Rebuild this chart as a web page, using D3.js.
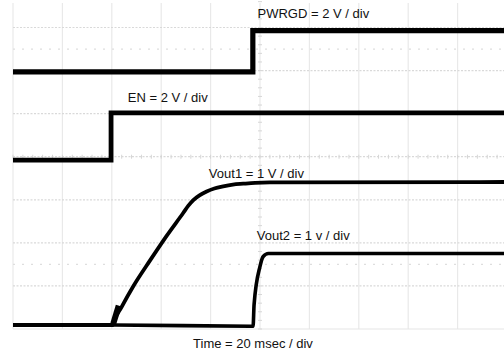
<!DOCTYPE html>
<html>
<head>
<meta charset="utf-8">
<script src="https://cdn.jsdelivr.net/npm/d3@7/dist/d3.min.js"></script>
<style>
  html, body { margin: 0; padding: 0; background: #fff; }
  svg { display: block; }
</style>
</head>
<body>
<svg id="chart" width="504" height="356"></svg>
<script>
// ---- Data (time in ms, voltage in V) ----
const xDivs = [0, 1, 2, 3, 4, 5, 6, 7, 8, 9, 10];     // 20 ms / div
const yDivs = [0, 1, 2, 3, 4, 5, 6, 7];                // vertical divisions
const msPerDiv = 20;

const channels    = ["PWRGD", "EN", "Vout1", "Vout2"];
const voltsPerDiv = [2, 2, 1, 1];
const offsetDiv   = [5.97, 3.92, 0.093, 0.093];

const pwrgdT = [0, 97.1, 97.1, 200];
const pwrgdV = [0, 0, 1.92, 1.92];

const enT = [0, 39.7, 39.7, 200];
const enV = [0, 0, 2.2, 2.2];

const vout1T = [0, 40.4, 40.6, 44.0, 48.7, 55.5, 62.2, 68.9, 71.0, 73.0, 75.5, 78.4, 81.5, 85.1, 89.0, 93.2, 98.0, 104.0, 200];
const vout1V = [0, 0, 0.04, 0.42, 0.90, 1.50, 2.07, 2.60, 2.77, 2.90, 3.01, 3.10, 3.17, 3.22, 3.26, 3.28, 3.30, 3.31, 3.32];

const vout1GlitchT = [40.6, 42.8];
const vout1GlitchV = [0.03, 0.45];

const vout2T = [0, 40, 97.2, 97.6, 100.0, 101.3, 103.4, 110, 200];
const vout2V = [0, 0, -0.03, 0.47, 1.36, 1.59, 1.66, 1.66, 1.66];

const labels = ["PWRGD = 2 V / div", "EN = 2 V / div", "Vout1 = 1 V / div", "Vout2 = 1 v / div", "Time = 20 msec / div"];
const labelT = [99.0, 46.5, 79.3, 98.7, 72.9];     // ms, left anchor
const labelDiv = [7.22, 5.27, 3.51, 2.07, -0.44];    // baseline, in divisions

// ---- Scales ----
const svg = d3.select("#chart");
const x = d3.scaleLinear().domain([0, xDivs.length - 1]).range([13, 507]);   // divisions
const xt = d3.scaleLinear().domain([0, (xDivs.length - 1) * msPerDiv]).range([13, 507]); // ms
const y = d3.scaleLinear().domain([0, 8]).range([329, 329 - 8 * 43.07]);

svg.append("rect").attr("width", 504).attr("height", 356).attr("fill", "#fff");

// ---- Grid ----
const grid = svg.append("g");
grid.selectAll("line.v").data(xDivs).join("line")
  .attr("x1", d => x(d)).attr("x2", d => x(d))
  .attr("y1", 3).attr("y2", y(0))
  .attr("stroke", "#e9e9e9").attr("stroke-width", 1.2);

grid.selectAll("line.h").data(yDivs).join("line")
  .attr("x1", x(0)).attr("x2", 504)
  .attr("y1", d => y(d)).attr("y2", d => y(d))
  .attr("stroke", d => d === 0 ? "#e6e6e6" : "#d9d9d9")
  .attr("stroke-width", 1.2)
  .attr("stroke-dasharray", d => d === 0 ? null : "2,1.5");

// faint half-division rows
grid.selectAll("line.hh").data([1.5, 6.5]).join("line")
  .attr("x1", x(0)).attr("x2", 504)
  .attr("y1", d => y(d)).attr("y2", d => y(d))
  .attr("stroke", "#dedede").attr("stroke-width", 1.2)
  .attr("stroke-dasharray", "2,7");

// centre-line minor ticks
const minorX = d3.range(0, 10.01, 0.2);
grid.selectAll("line.mx").data(minorX).join("line")
  .attr("x1", d => x(d)).attr("x2", d => x(d))
  .attr("y1", y(4) - 2).attr("y2", y(4) + 2)
  .attr("stroke", "#d6d6d6").attr("stroke-width", 1);
const minorY = d3.range(0, 8.01, 0.2);
grid.selectAll("line.my").data(minorY).join("line")
  .attr("x1", x(5) - 2).attr("x2", x(5) + 2)
  .attr("y1", d => y(d)).attr("y2", d => y(d))
  .attr("stroke", "#d6d6d6").attr("stroke-width", 1);

// ---- Traces ----
function trace(T, V, ch, width, curve) {
  const pts = T.map((t, i) => [t, V[i]]);
  const line = d3.line()
    .x(d => xt(d[0]))
    .y(d => y(offsetDiv[ch] + d[1] / voltsPerDiv[ch]))
    .curve(curve || d3.curveLinear);
  svg.append("path").datum(pts)
    .attr("d", line)
    .attr("fill", "none")
    .attr("stroke", "#000")
    .attr("stroke-width", width)
    .attr("stroke-linejoin", "miter")
    .attr("stroke-linecap", "butt");
}
trace(vout2T, vout2V, 3, 3.6, d3.curveMonotoneX);
trace(vout1T, vout1V, 2, 3.8, d3.curveMonotoneX);
trace(vout1GlitchT, vout1GlitchV, 2, 6);
trace(enT, enV, 1, 4.8);
trace(pwrgdT, pwrgdV, 0, 5.2);

// ---- Labels ----
svg.selectAll("text.lbl").data(labels).join("text")
  .attr("x", (d, i) => xt(labelT[i]))
  .attr("y", (d, i) => y(labelDiv[i]))
  .attr("font-family", "Arial, 'Liberation Sans', sans-serif")
  .attr("font-size", 13)
  .attr("fill", "#111")
  .text(d => d);
</script>
</body>
</html>
